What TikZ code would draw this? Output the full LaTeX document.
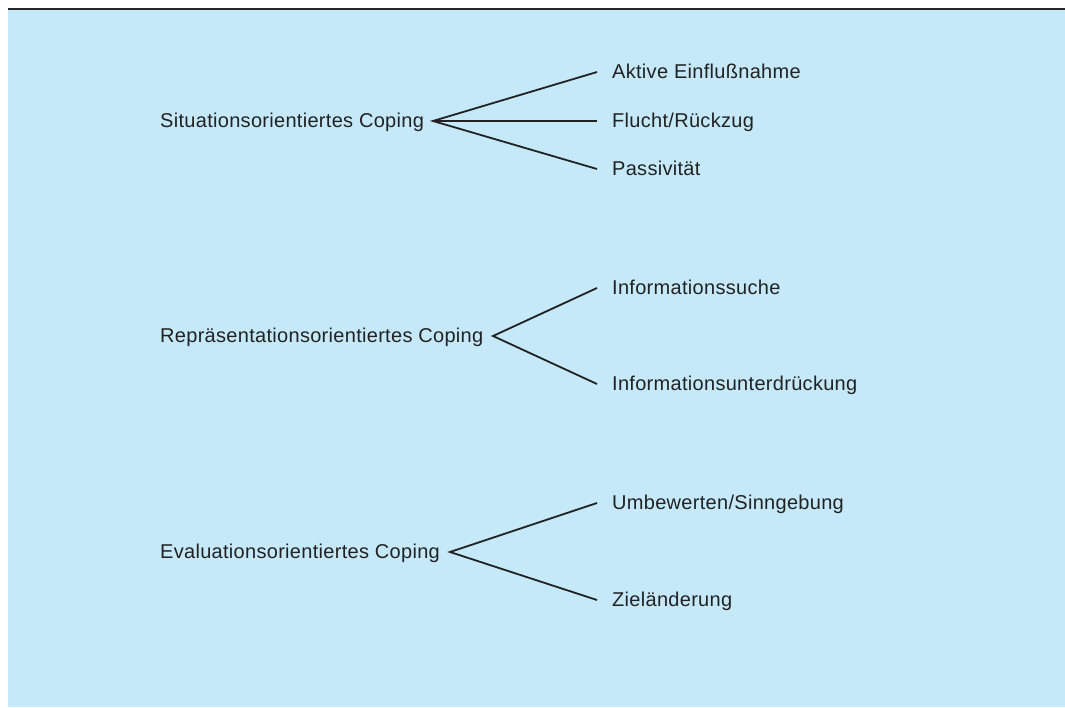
\documentclass[tikz,border=0pt]{standalone}
\usepackage{fontspec}
\setmainfont{Liberation Sans}[LetterSpace=1.5]
\definecolor{bgblue}{HTML}{C5E9F9}
\definecolor{txtgray}{HTML}{222222}
\tikzset{
  item/.style={anchor=west, inner sep=0pt, text height=14pt, text depth=1pt, text=txtgray, font=\fontsize{20}{23}\selectfont},
  leaf/.style={item, inner xsep=15pt},
  branch/.style={line width=1.8pt, draw=txtgray}
}
\begin{document}
\begin{tikzpicture}[x=1pt, y=-1pt]
	\useasboundingbox (0,0) rectangle (1065,707);
	\fill[bgblue] (8,10) rectangle (1065,707);
	\draw[line width=2pt, black!85] (8,9) -- (1065,9);
	
	% Situationsorientiertes Coping
	\node[item] (sit) at (160,121) {Situationsorientiertes Coping};
	\coordinate (fsit) at (433,121);
	\node[leaf] (aktiv) at (597,72) {Aktive Einflußnahme};
	\node[leaf] (flucht) at (597,121) {Flucht/Rückzug};
	\node[leaf] (passiv) at (597,169) {Passivität};
	\draw[branch] (aktiv.west) -- (fsit) -- (passiv.west);
	\draw[branch] (fsit) -- (flucht.west);
	
	% Repraesentationsorientiertes Coping
	\node[item] (rep) at (160,336) {Repräsentationsorientiertes Coping};
	\coordinate (frep) at (493,336);
	\node[leaf] (suche) at (597,288) {Informationssuche};
	\node[leaf] (unter) at (597,384) {Informationsunterdrückung};
	\draw[branch] (suche.west) -- (frep) -- (unter.west);
	
	% Evaluationsorientiertes Coping
	\node[item] (eva) at (160,552) {Evaluationsorientiertes Coping};
	\coordinate (feva) at (450,552);
	\node[leaf] (umbew) at (597,503) {Umbewerten/Sinngebung};
	\node[leaf] (ziel) at (597,600) {Zieländerung};
	\draw[branch] (umbew.west) -- (feva) -- (ziel.west);
\end{tikzpicture}
\end{document}
